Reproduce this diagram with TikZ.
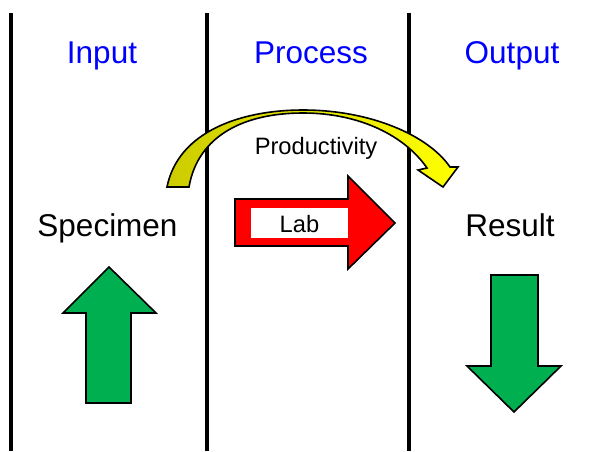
\documentclass[tikz,border=0pt]{standalone}
\usepackage{fontspec}
\setmainfont{Liberation Sans}
\definecolor{tblue}{RGB}{0,0,255}
\definecolor{agreen}{RGB}{0,176,80}
\definecolor{olive}{RGB}{204,204,0}
\begin{document}
\begin{tikzpicture}[x=1pt,y=-1pt,
  divider/.style={line width=4pt},
  header/.style={anchor=base,text=tblue,font=\fontsize{31.5}{31.5}\selectfont,inner sep=0},
  label/.style={anchor=base,font=\fontsize{31.5}{31.5}\selectfont,inner sep=0},
  small/.style={anchor=base,font=\fontsize{23.7}{23.7}\selectfont,inner sep=0},
  blockarrow/.style={draw=black,line width=1.6pt,line join=miter}]
\useasboundingbox (0,0) rectangle (603,451);
\fill[white] (0,0) rectangle (603,451);
% dividers
\coordinate (l1t) at (11,13); \coordinate (l1b) at (11,451);
\coordinate (l2t) at (207,13); \coordinate (l2b) at (207,451);
\coordinate (l3t) at (409,13); \coordinate (l3b) at (409,451);
\draw[divider] (l1t) -- (l1b);
\draw[divider] (l2t) -- (l2b);
\draw[divider] (l3t) -- (l3b);
% headers
\node[header] (hin) at (102,63) {Input};
\node[header] (hpr) at (311,63) {Process};
\node[header] (hout) at (512,63) {Output};
% curved arrow
\path[blockarrow,left color=olive,right color=yellow,shading angle=90]
  (167,187) .. controls (178,132) and (240,110) .. (303,110)
  .. controls (370,110) and (428,135) .. (450,167)
  -- (458,167) -- (443,187) -- (418,170) -- (427,168)
  .. controls (405,136) and (360,113) .. (303,113)
  .. controls (245,113) and (198,135) .. (189,187) -- cycle;
\node[small] (prod) at (316,154) {Productivity};
% red arrow
\path[blockarrow,fill=red]
  (235,199) -- (348,199) -- (348,176) -- (395,223) -- (348,269) -- (348,246) -- (235,246) -- cycle;
\fill[white] (251,208) rectangle (348,238);
\node[small] (lab) at (299.5,232) {Lab};
% labels
\node[label] (spec) at (107.5,236) {Specimen};
\node[label] (res) at (510,236) {Result};
% up arrow
\path[blockarrow,fill=agreen]
  (109,267) -- (156,313) -- (131,313) -- (131,403) -- (86,403) -- (86,313) -- (63,313) -- cycle;
% down arrow
\path[blockarrow,fill=agreen]
  (491,275) -- (538,275) -- (538,366) -- (561,366) -- (514,412) -- (467,366) -- (491,366) -- cycle;
\end{tikzpicture}
\end{document}
